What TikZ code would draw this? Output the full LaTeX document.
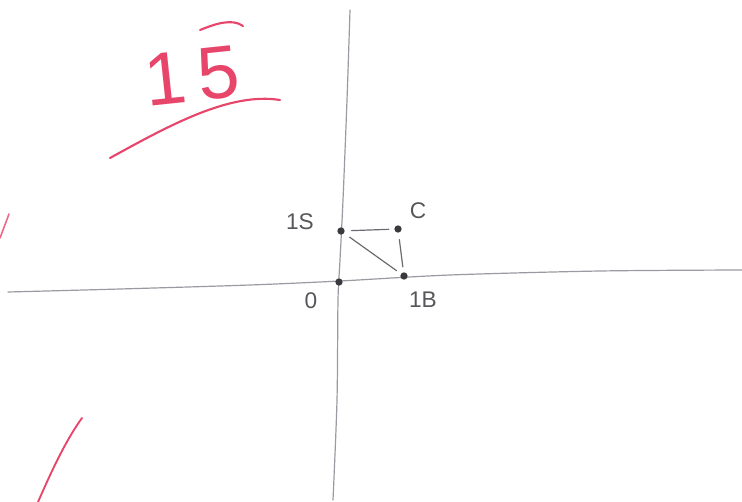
\documentclass[tikz,border=0pt]{standalone}
\usepackage{fontspec}
\setmainfont{Liberation Sans}
\definecolor{pencil}{HTML}{9A9AA2}
\definecolor{lead}{HTML}{6A6A70}
\definecolor{dotc}{HTML}{3A3A3E}
\definecolor{redpen}{HTML}{E8456A}
\tikzset{
  axis/.style={pencil, line width=0.9pt, line cap=round},
  edge/.style={lead, line width=0.9pt, line cap=round, shorten <=5pt, shorten >=4pt},
  pt/.style={circle, fill=dotc, inner sep=0pt, minimum size=5.5pt},
  lbl/.style={text=dotc!85, font=\fontsize{17}{19}\selectfont},
  redline/.style={redpen, line width=1.6pt, line cap=round}
}
\begin{document}
\begin{tikzpicture}[x=0.75pt,y=-0.75pt]
\useasboundingbox (0,0) rectangle (742,502);
% axes
\draw[axis] plot[smooth] coordinates {(350,10) (347,100) (343,200) (340,260) (338,300) (337,400) (333,500)};
\draw[axis] plot[smooth] coordinates {(8,292) (120,289) (250,285) (340,281) (450,275) (600,271) (742,270)};
% points
\node[pt] (s) at (341,231) {};
\node[pt] (c) at (398,229) {};
\node[pt] (b) at (404,276) {};
\node[pt] (o) at (339,282) {};
% triangle
\draw[edge] (s) -- (c);
\draw[edge] (c) -- (b);
\draw[edge] (s) -- (b);
% labels
\node[lbl] (ls) at (300,222) {1S};
\node[lbl] (lc) at (418,211) {C};
\node[lbl] (lo) at (311,301) {0};
\node[lbl] (lb) at (423,300) {1B};
% red marks
\node[text=redpen, font=\fontsize{56}{60}\selectfont, rotate=6] (title) at (192,76) {1\,5};
\draw[redline] (200,30) .. controls (215,24) and (232,18) .. (243,26);
\draw[redline] (110,158) .. controls (170,125) and (230,92) .. (280,100);
\draw[redline, line width=1.2pt, opacity=0.8] (0,238) -- (9,214);
\draw[redline, line width=1.4pt] (38,502) .. controls (52,470) and (66,440) .. (82,418);
\end{tikzpicture}
\end{document}
